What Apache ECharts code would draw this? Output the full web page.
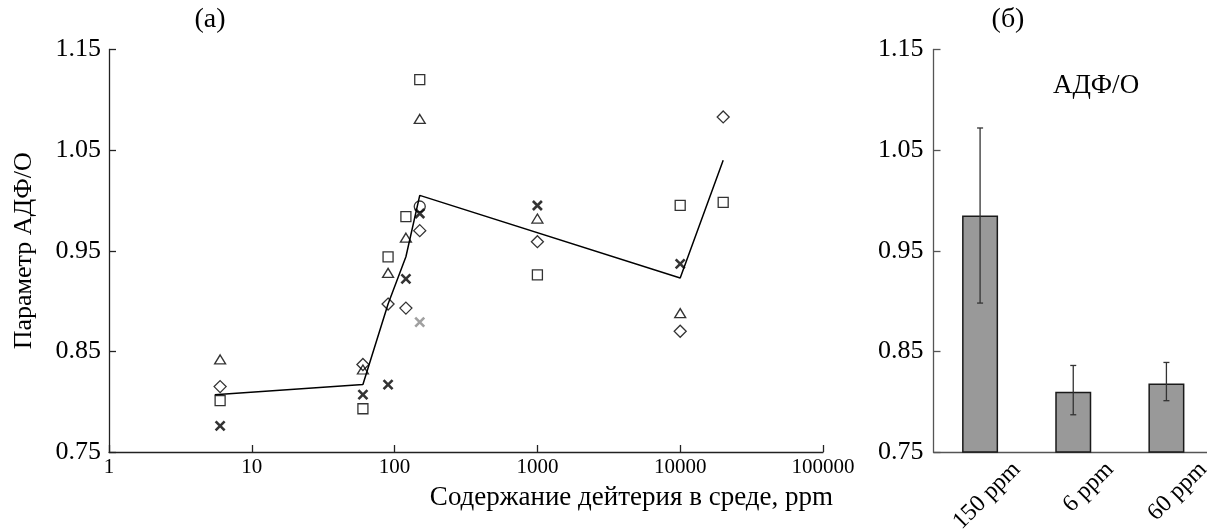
<!DOCTYPE html>
<html>
<head>
<meta charset="utf-8">
<script src="https://cdn.jsdelivr.net/npm/echarts@6/dist/echarts.min.js"></script>
<style>
html,body{margin:0;padding:0;background:#fff;}
#chart{width:1207px;height:531px;}
</style>
</head>
<body>
<div id="chart"></div>
<script>
// ---- data ----
const xTickLabels = ['1', '10', '100', '1000', '10000', '100000'];
const yTickValues = [0.75, 0.85, 0.95, 1.05, 1.15];

const squares = [[6, 0.801], [60, 0.793], [90, 0.944], [120, 0.984], [150, 1.120], [1000, 0.926], [10000, 0.995], [20000, 0.998]];
const triangles = [[6, 0.842], [60, 0.832], [90, 0.928], [120, 0.963], [150, 1.081], [1000, 0.982], [10000, 0.888]];
const diamonds = [[6, 0.815], [60, 0.837], [90, 0.897], [120, 0.893], [150, 0.970], [1000, 0.959], [10000, 0.870], [20000, 1.083]];
const crosses = [[6, 0.776], [60, 0.807], [90, 0.817], [120, 0.922], [150, 0.987], [1000, 0.995], [10000, 0.937]];
const circles = [[150, 0.994]];
const greyCrosses = [[150, 0.879]];
const trendLine = [[5.5, 0.807], [60, 0.817], [90, 0.897], [120, 0.944], [150, 1.005], [10000, 0.923], [20000, 1.040]];

const barCategories = ['150 ppm', '6 ppm', '60 ppm'];
const barValues = [0.985, 0.810, 0.818];
const errLow = [0.898, 0.787, 0.801];
const errHigh = [1.072, 0.836, 0.839];

// ---- chart ----
const FONT = '"Liberation Serif", "Times New Roman", serif';
const crossPath = 'path://M0,0L10,10M10,0L0,10';
const chart = echarts.init(document.getElementById('chart'), null, {renderer: 'canvas'});

function hollow(sym, size, name, data) {
  return {
    type: 'scatter', name: name, xAxisIndex: 0, yAxisIndex: 0,
    symbol: sym, symbolSize: size, data: data, z: 3,
    itemStyle: {color: 'transparent', borderColor: '#000', borderWidth: 1.3}
  };
}
function crossSeries(name, data, col, size) {
  return {
    type: 'scatter', name: name, xAxisIndex: 0, yAxisIndex: 0,
    symbol: crossPath, symbolSize: size, data: data, z: 4,
    itemStyle: {color: 'transparent', borderColor: col, borderWidth: 2.6}
  };
}

const errData = barCategories.map((c, i) => [i, errLow[i], errHigh[i]]);

const option = {
  backgroundColor: '#fff',
  animation: false,
  textStyle: {fontFamily: FONT, color: '#000'},
  title: [
    {text: '(a)', left: 205, top: 1, textAlign: 'center', textStyle: {fontFamily: FONT, fontSize: 28, fontWeight: 'normal', color: '#000'}},
    {text: '(б)', left: 1003, top: 1, textAlign: 'center', textStyle: {fontFamily: FONT, fontSize: 28, fontWeight: 'normal', color: '#000'}},
    {text: 'АДФ/О', left: 1091, top: 67, textAlign: 'center', textStyle: {fontFamily: FONT, fontSize: 27, fontWeight: 'normal', color: '#000'}}
  ],
  grid: [
    {left: 109, top: 49.5, right: 384, bottom: 79, containLabel: false, outerBoundsMode: 'none'},
    {left: 933.5, top: 49.5, right: -6, bottom: 79, containLabel: false, outerBoundsMode: 'none'}
  ],
  xAxis: [
    {
      type: 'log', logBase: 10, min: 1, max: 100000, gridIndex: 0,
      name: 'Содержание дейтерия в среде, ppm', nameLocation: 'end',
      nameGap: 10,
      nameTextStyle: {fontFamily: FONT, fontSize: 27, color: '#000', align: 'right', verticalAlign: 'top', padding: [32, 0, 0, 0]},
      axisLine: {lineStyle: {color: '#222', width: 1.3}},
      axisTick: {inside: true, length: 7, lineStyle: {color: '#222', width: 1.3}},
      axisLabel: {fontFamily: FONT, fontSize: 21, color: '#000', margin: 5,
        formatter: (v) => xTickLabels[Math.round(Math.log10(v))]},
      splitLine: {show: false},
      minorTick: {show: false}
    },
    {
      type: 'category', data: barCategories, gridIndex: 1, boundaryGap: true,
      axisLine: {lineStyle: {color: '#555', width: 1.3}},
      axisTick: {inside: true, length: 7, lineStyle: {color: '#555', width: 1.3}},
      axisLabel: {fontFamily: FONT, fontSize: 24, color: '#000', rotate: 45, margin: -23,
        align: 'right', verticalAlign: 'top', padding: [40, 0, 0, 0]},
      splitLine: {show: false}
    }
  ],
  yAxis: [
    {
      type: 'value', min: 0.75, max: 1.15, gridIndex: 0,
      name: 'Параметр АДФ/О', nameLocation: 'middle', nameGap: 72,
      nameTextStyle: {fontFamily: FONT, fontSize: 26, color: '#000'},
      axisLine: {show: true, lineStyle: {color: '#222', width: 1.3}},
      axisTick: {show: true, inside: true, length: 7, customValues: yTickValues, lineStyle: {color: '#222', width: 1.3}},
      axisLabel: {fontFamily: FONT, fontSize: 26, color: '#000', margin: 8, customValues: yTickValues,
        formatter: (v) => v.toFixed(2)},
      splitLine: {show: false}
    },
    {
      type: 'value', min: 0.75, max: 1.15, gridIndex: 1,
      axisLine: {show: true, lineStyle: {color: '#555', width: 1.3}},
      axisTick: {show: true, inside: true, length: 7, customValues: yTickValues, lineStyle: {color: '#555', width: 1.3}},
      axisLabel: {fontFamily: FONT, fontSize: 26, color: '#000', margin: 10, customValues: yTickValues,
        formatter: (v) => v.toFixed(2)},
      splitLine: {show: false}
    }
  ],
  series: [
    {
      type: 'line', name: 'trend', xAxisIndex: 0, yAxisIndex: 0, data: trendLine,
      showSymbol: false, symbol: 'none', lineStyle: {color: '#000', width: 1.5}, z: 2
    },
    hollow('rect', [10, 10], 'squares', squares),
    hollow('triangle', [11, 9], 'triangles', triangles),
    hollow('diamond', [12, 12], 'diamonds', diamonds),
    hollow('circle', [11, 11], 'circles', circles),
    crossSeries('crosses', crosses, '#000', 9),
    crossSeries('grey crosses', greyCrosses, '#888', 9),
    {
      type: 'bar', name: 'bars', xAxisIndex: 1, yAxisIndex: 1, data: barValues,
      barWidth: 36,
      itemStyle: {color: '#999999', borderColor: '#1a1a1a', borderWidth: 1.5}
    },
    {
      type: 'custom', name: 'errors', xAxisIndex: 1, yAxisIndex: 1, data: errData, z: 5,
      renderItem: function (params, api) {
        const x = api.value(0);
        const lo = api.coord([x, api.value(1)]);
        const hi = api.coord([x, api.value(2)]);
        const w = 3;
        const st = {stroke: '#333', lineWidth: 1.3};
        return {
          type: 'group',
          children: [
            {type: 'line', shape: {x1: lo[0], y1: lo[1], x2: hi[0], y2: hi[1]}, style: st},
            {type: 'line', shape: {x1: lo[0] - w, y1: lo[1], x2: lo[0] + w, y2: lo[1]}, style: st},
            {type: 'line', shape: {x1: hi[0] - w, y1: hi[1], x2: hi[0] + w, y2: hi[1]}, style: st}
          ]
        };
      }
    }
  ]
};
chart.setOption(option);
</script>
</body>
</html>
